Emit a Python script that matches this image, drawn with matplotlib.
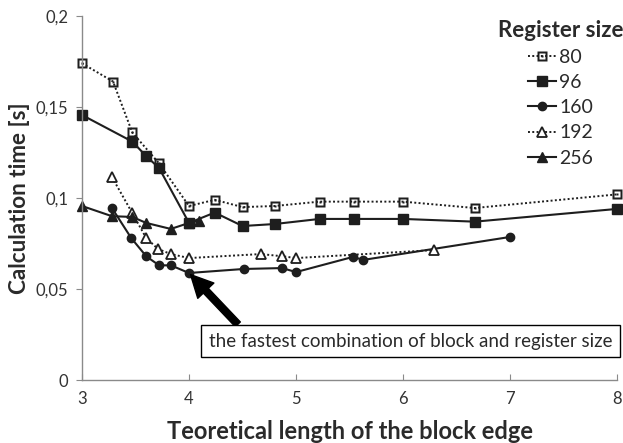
import matplotlib
matplotlib.use("Agg")
import matplotlib.pyplot as plt
from matplotlib.path import Path
from matplotlib.ticker import FixedLocator

plt.rcParams['font.family'] = ['Lato', 'DejaVu Sans']

# block edge lengths and calculation times per register size
x80 = [3.0, 3.29, 3.47, 3.72, 4.0, 4.24, 4.5, 4.8, 5.22, 5.54, 6.0, 6.67, 8.0]
y80 = [0.174, 0.164, 0.136, 0.119, 0.0956, 0.099, 0.095, 0.0956, 0.098, 0.098, 0.098, 0.0945, 0.102]

x96 = [3.0, 3.47, 3.6, 3.72, 4.0, 4.24, 4.5, 4.8, 5.22, 5.54, 6.0, 6.67, 8.0]
y96 = [0.1456, 0.131, 0.123, 0.1165, 0.0863, 0.092, 0.0846, 0.0857, 0.0885, 0.0885, 0.0885, 0.087, 0.094]

x160 = [3.28, 3.46, 3.6, 3.72, 3.83, 4.0, 4.51, 4.87, 5.0, 5.53, 5.63, 7.0]
y160 = [0.0945, 0.078, 0.068, 0.063, 0.063, 0.0588, 0.061, 0.0615, 0.0593, 0.0676, 0.066, 0.0786]

x192 = [3.28, 3.47, 3.6, 3.71, 3.83, 4.0, 4.67, 4.87, 5.0, 6.29]
y192 = [0.1115, 0.0917, 0.078, 0.072, 0.0692, 0.067, 0.0692, 0.068, 0.067, 0.0714]

x256 = [3.0, 3.28, 3.47, 3.6, 3.83, 4.0, 4.09]
y256 = [0.0956, 0.090, 0.0896, 0.0863, 0.083, 0.0863, 0.0874]

yticks = [0, 0.05, 0.1, 0.15, 0.2]
ytick_labels = ['0', '0,05', '0,1', '0,15', '0,2']
xticks = [3, 4, 5, 6, 7, 8]

note = 'the fastest combination of block and register size'
best = (4.0, 0.0588)

ink = '#1e1e1e'
axis_gray = '#8a8a8a'

# open square with a dot in the middle
outer = [(-1, -1), (1, -1), (1, 1), (-1, 1), (-1, -1)]
inner = [(-0.62, -0.62), (-0.62, 0.62), (0.62, 0.62), (0.62, -0.62), (-0.62, -0.62)]
dot = [(-0.22, -0.22), (0.22, -0.22), (0.22, 0.22), (-0.22, 0.22), (-0.22, -0.22)]
codes = [Path.MOVETO] + [Path.LINETO] * 3 + [Path.CLOSEPOLY]
dotted_square = Path(outer + inner + dot, codes * 3)

fig = plt.figure(figsize=(6.23, 4.43), dpi=100)
ax = fig.add_axes([0.1316, 0.1422, 0.859, 0.8217])

ax.plot(x80, y80, ls=(0, (1, 1.2)), lw=1.4, color=ink, marker=dotted_square,
        ms=7.5, mfc=ink, mec='none', label='80', clip_on=False)
ax.plot(x96, y96, ls='-', lw=1.5, color=ink, marker='s', ms=6.5,
        label='96', clip_on=False)
ax.plot(x160, y160, ls='-', lw=1.5, color=ink, marker='o', ms=6,
        label='160', clip_on=False)
ax.plot(x192, y192, ls=(0, (1, 1.2)), lw=1.4, color=ink, marker='^', ms=7,
        mfc='white', mec=ink, mew=1.3, label='192', clip_on=False)
ax.plot(x256, y256, ls='-', lw=1.5, color=ink, marker='^', ms=6.5,
        label='256', clip_on=False)

ax.set_xlim(3, 8)
ax.set_ylim(0, 0.2)
ax.xaxis.set_major_locator(FixedLocator(xticks))
ax.set_yticks(yticks)
ax.set_yticklabels(ytick_labels)

for side in ['top', 'right']:
    ax.spines[side].set_visible(False)
for side in ['left', 'bottom']:
    ax.spines[side].set_color(axis_gray)
    ax.spines[side].set_linewidth(1.0)
ax.tick_params(axis='x', direction='in', length=4, color=axis_gray,
               labelsize=12, labelcolor='#333333', pad=8)
ax.tick_params(axis='y', direction='out', length=4, color=axis_gray,
               labelsize=12, labelcolor='#333333', pad=6)

ax.set_xlabel('Teoretical length of the block edge', fontsize=17,
              fontweight='bold', color='#2a2a2a', labelpad=9)
ax.set_ylabel('Calculation time [s]', fontsize=16.2, fontweight='bold',
              color='#2a2a2a', labelpad=4)

leg = ax.legend(title='Register size', loc='upper right',
                bbox_to_anchor=(1.015, 0.995), frameon=False, fontsize=14,
                handlelength=1.45, handletextpad=0.15, labelspacing=0.42,
                borderpad=0.1, borderaxespad=0)
leg.get_title().set_fontweight('bold')
leg.get_title().set_fontsize(16)
leg.get_title().set_color('#2a2a2a')
for t in leg.get_texts():
    t.set_color('#2a2a2a')

ax.annotate('', xy=best, xytext=(4.47, 0.0297),
            arrowprops=dict(width=5, headwidth=16, headlength=16,
                            color='black', shrink=0.03))
ax.text(6.07, 0.0212, note, ha='center', va='center', fontsize=13.5,
        color='#2a2a2a',
        bbox=dict(boxstyle='square,pad=0.4', fc='white', ec='black', lw=1.0))

fig.savefig('out.png', dpi=100)
